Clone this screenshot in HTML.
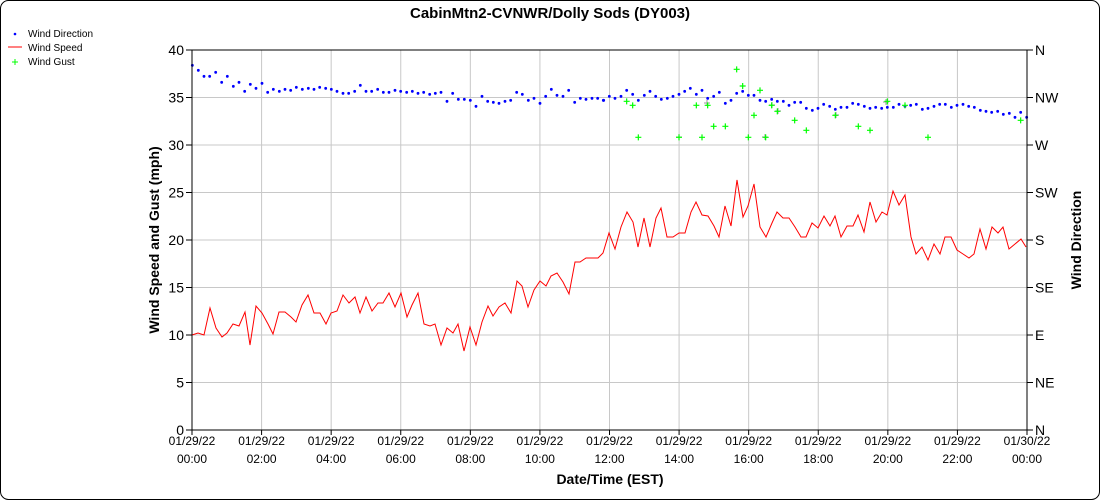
<!DOCTYPE html>
<html><head><meta charset="utf-8"><style>
html,body{margin:0;padding:0;background:#fff;}
svg{display:block;font-family:"Liberation Sans",Arial,sans-serif;}
</style></head><body>
<svg id="s" width="1100" height="500" xmlns="http://www.w3.org/2000/svg">
<rect x="0.5" y="0.5" width="1099" height="499" rx="8" fill="#fff" stroke="#000"/>
<text x="550" y="18" text-anchor="middle" font-size="15" font-weight="bold">CabinMtn2-CVNWR/Dolly Sods (DY003)</text>
<g font-size="10">
<circle cx="15" cy="34" r="1.3" fill="#00f"/><text x="28" y="37">Wind Direction</text>
<line x1="8" y1="47" x2="22" y2="47" stroke="#f00"/><text x="28" y="51">Wind Speed</text>
<path d="M12 62h6M15 59v6" stroke="#0f0"/><text x="28" y="65">Wind Gust</text>
</g>
<g id="grid" stroke="#c8c8c8" stroke-width="1"></g>
<g id="data"></g>
<g id="axes" stroke="#000"></g>
<g id="labels" font-size="14"></g>
<text transform="translate(159,240) rotate(-90)" text-anchor="middle" font-size="14" font-weight="bold">Wind Speed and Gust (mph)</text>
<text transform="translate(1081,240) rotate(-90)" text-anchor="middle" font-size="14" font-weight="bold">Wind Direction</text>
<text x="610" y="484" text-anchor="middle" font-size="14" font-weight="bold">Date/Time (EST)</text>
</svg>
<script>
const NS="http://www.w3.org/2000/svg";
function el(p,t,a,txt){const e=document.createElementNS(NS,t);for(const k in a)e.setAttribute(k,a[k]);if(txt!==undefined)e.textContent=txt;document.getElementById(p).appendChild(e);return e;}
const X0=192,X1=1027,Y0=430,Y1=50;
for(let i=0;i<=12;i++){const x=X0+(X1-X0)*i/12;el('grid','line',{x1:x,y1:Y1,x2:x,y2:Y0});
 el('axes','line',{x1:x,y1:Y0,x2:x,y2:Y0+5});
 const d=i==12?'01/30/22':'01/29/22';const h=i==12?'00:00':String(i*2).padStart(2,'0')+':00';
 el('labels','text',{x:x,y:445,'text-anchor':'middle','font-size':12},d);
 el('labels','text',{x:x,y:463,'text-anchor':'middle','font-size':12},h);}
const dirs=['N','NE','E','SE','S','SW','W','NW','N'];
for(let i=0;i<=8;i++){const y=Y0-(Y0-Y1)*i/8;el('grid','line',{x1:X0,y1:y,x2:X1,y2:y});
 el('axes','line',{x1:X0-6,y1:y,x2:X0,y2:y});el('axes','line',{x1:X1,y1:y,x2:X1+6,y2:y});
 el('labels','text',{x:184,y:y+5,'text-anchor':'end'},String(i*5));
 el('labels','text',{x:1035,y:y+5},dirs[i]);}
el('axes','line',{x1:X0,y1:Y1,x2:X0,y2:Y0});el('axes','line',{x1:X1,y1:Y1,x2:X1,y2:Y0});
el('axes','line',{x1:X0,y1:Y0,x2:X1,y2:Y0});el('axes','line',{x1:X0,y1:Y1,x2:X1,y2:Y1});
const sp=[[192,335],[198,333],[204,335],[210,308],[216,328],[222,337],[227,333],[233,324],[239,326],[245,312],[250,345],[256,306],[262,313],[268,324],[273,334],[279,312],[285,312],[291,317],[296,322],[302,305],[308,295],[314,313],[320,313],[326,324],[331,313],[337,311],[343,295],[349,303],[355,297],[360,313],[366,297],[372,311],[378,303],[383,303],[389,293],[395,307],[401,293],[407,317],[412,305],[418,293],[424,324],[430,326],[435,324],[441,345],[447,328],[453,333],[458,324],[464,351],[470,327],[476,345],[482,322],[488,306],[493,316],[499,307],[505,303],[511,313],[517,281],[522,286],[528,307],[534,290],[540,281],[546,286],[551,276],[557,273],[563,282],[569,294],[575,262],[580,262],[586,258],[592,258],[598,258],[603,253],[609,233],[615,249],[621,227],[627,212],[633,222],[638,247],[644,218],[650,247],[656,218],[661,208],[667,237],[673,237],[679,233],[685,233],[691,212],[696,202],[702,215],[708,216],[714,226],[719,237],[725,206],[731,226],[737,180],[743,217],[748,206],[754,184],[760,227],[766,237],[772,223],[777,212],[783,218],[789,218],[795,227],[801,237],[806,237],[812,223],[818,228],[824,216],[830,226],[835,216],[841,237],[847,226],[853,226],[858,215],[864,232],[870,202],[876,222],[882,212],[887,215],[893,191],[899,205],[905,195],[911,237],[916,254],[922,247],[928,260],[934,244],[940,254],[945,237],[951,237],[957,250],[963,254],[969,258],[974,254],[980,229],[986,249],[992,227],[998,233],[1003,227],[1009,249],[1015,244],[1021,239],[1026,247]];
const gray=[[679,137],[707,103],[765,137],[772,105],[778,111],[836,115],[886,102]];
gray.forEach(p=>el('data','path',{d:`M${p[0]-3} ${p[1]}h6M${p[0]} ${p[1]-3}v6`,stroke:'#999'}));
el('data','polyline',{points:sp.map(p=>p.join(',')).join(' '),fill:'none',stroke:'#f00','stroke-width':1});
const b1=[[22,46],[40,61],[57,79],[74,79],[92,67],[110,97],[127,79],[145,109],[162,97],[179,124],[196,103],[213,115],[231,100],[248,127],[265,118],[283,124],[300,118],[317,121],[334,112],[352,118],[370,115],[387,118],[404,112],[422,115],[439,118],[456,124],[474,130],[491,130],[509,124],[526,106],[543,124],[560,124],[578,118],[595,127],[612,127],[630,121],[647,124],[665,127],[682,124],[699,130],[716,127],[734,133],[751,130],[768,127],[786,154],[803,130],[820,148],[838,148],[856,151],[873,169],[891,139],[908,154],[925,157],[942,160],[960,154],[977,151],[995,127],[1012,133],[1030,151],[1047,145],[1065,160],[1082,139],[1099,118],[1116,136],[1134,139],[1151,121],[1169,157],[1186,145],[1203,148],[1221,145],[1238,145],[1256,151]];
const b2=[[10,151],[28,139],[45,145],[63,139],[80,121],[98,133],[115,151],[133,136],[150,124],[167,139],[184,148],[202,145],[219,139],[237,133],[254,124],[271,115],[289,133],[306,121],[323,145],[341,139],[358,127],[376,160],[393,151],[410,130],[428,124],[445,136],[462,136],[480,151],[497,154],[515,148],[532,154],[550,154],[567,166],[584,157],[602,157],[619,175],[637,181],[654,175],[671,163],[689,169],[706,178],[723,172],[741,172],[758,160],[775,163],[793,169],[810,175],[827,172],[845,175],[862,172],[880,172],[897,163],[915,169],[932,166],[949,163],[967,178],[984,175],[1002,169],[1019,163],[1036,163],[1054,172],[1071,166],[1089,163],[1106,169],[1123,172],[1141,181],[1158,184],[1175,187],[1193,184],[1210,193],[1228,190],[1245,202],[1262,187],[1280,202]];
b1.forEach(p=>el('data','circle',{cx:185+p[0]/3,cy:50+p[1]/3,r:1.4,fill:'#00f'}));
b2.forEach(p=>el('data','circle',{cx:600+p[0]/3,cy:50+p[1]/3,r:1.4,fill:'#00f'}));
const g=[[80,154],[98,166],[115,262],[237,262],[289,166],[306,262],[323,166],[341,229],[376,229],[410,58],[428,108],[445,262],[462,196],[480,121],[497,262],[515,166],[532,184],[584,211],[619,241],[706,196],[775,229],[810,241],[862,154],[915,166],[984,262],[1262,211]];
g.forEach(q=>{const x=600+q[0]/3,y=50+q[1]/3;el('data','path',{d:`M${x-3} ${y}h6M${x} ${y-3}v6`,stroke:'#0f0','stroke-width':1.2});});
</script>
</body></html>
